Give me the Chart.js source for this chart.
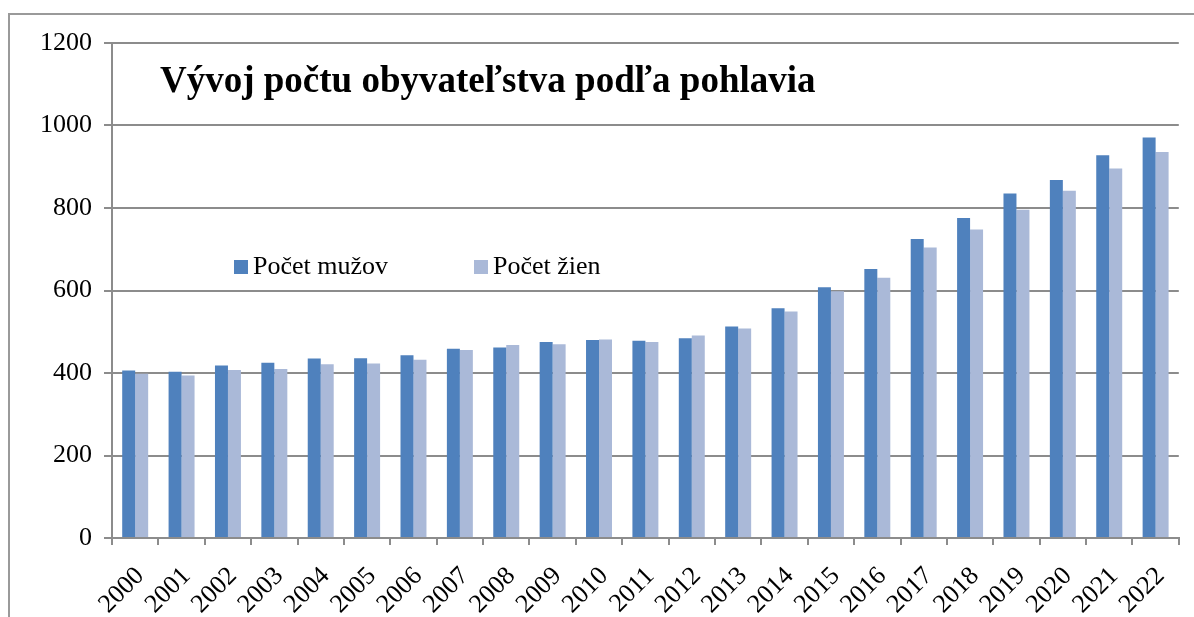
<!DOCTYPE html>
<html>
<head>
<meta charset="utf-8">
<script src="https://cdn.jsdelivr.net/npm/chart.js@4.4.1/dist/chart.umd.min.js"></script>
<style>
    html, body { margin: 0; padding: 0; background: #fff; overflow: hidden; }
    #frame {
        position: absolute; left: 8px; top: 13px;
        width: 1300px; height: 700px;
        border: 2px solid #9a9a9a;
    }
    #wrap { position: absolute; left: 0; top: 0; width: 1194px; height: 617px; }
</style>
</head>
<body>
<div id="frame"></div>
<div id="wrap"><canvas id="chart"></canvas></div>
<script>
// Chart data
const years = ['2000', '2001', '2002', '2003', '2004', '2005', '2006', '2007', '2008', '2009', '2010', '2011',
    '2012', '2013', '2014', '2015', '2016', '2017', '2018', '2019', '2020', '2021', '2022'];
const men = [406, 403, 418, 425, 435, 436, 443, 459, 462, 475, 480, 478, 484, 513, 557, 608, 652, 725, 776, 835, 868, 928, 971];
const women = [398, 394, 407, 410, 421, 423, 432, 456, 468, 470, 481, 475, 491, 508, 549, 598, 631, 704, 748, 796, 842, 896, 936];
const seriesNames = ['Počet mužov', 'Počet žien'];
const titleText = 'Vývoj počtu obyvateľstva podľa pohlavia';
const yMax = 1200;
const yStep = 200;

const serif = "'Liberation Serif', 'Times New Roman', serif";
const gridGray = '#8c8c8c';

// Title and legend sit inside the plot area
const overlayPlugin = {
    id: 'overlay',
    afterDraw(chart) {
        const ctx = chart.ctx;
        ctx.save();
        ctx.fillStyle = '#000';
        ctx.textBaseline = 'alphabetic';
        ctx.textAlign = 'left';
        ctx.font = 'bold 37px ' + serif;
        ctx.fillText(titleText, 160, 92);

        const legendX = [234, 474];
        ctx.font = '26px ' + serif;
        chart.data.datasets.forEach((ds, i) => {
            ctx.fillStyle = ds.backgroundColor;
            ctx.fillRect(legendX[i], 260, 14, 14);
            ctx.fillStyle = '#000';
            ctx.fillText(ds.label, legendX[i] + 19, 274);
        });
        ctx.restore();
    }
};

new Chart(document.getElementById('chart'), {
    type: 'bar',
    data: {
        labels: years,
        datasets: [
            { label: seriesNames[0], data: men, backgroundColor: '#4F81BD' },
            { label: seriesNames[1], data: women, backgroundColor: '#AAB9D8' }
        ]
    },
    options: {
        responsive: true,
        maintainAspectRatio: false,
        animation: false,
        categoryPercentage: 0.56,
        barPercentage: 1,
        layout: { padding: { left: 0, top: 43, right: 15, bottom: 0 } },
        plugins: {
            legend: { display: false },
            title: { display: false },
            tooltip: { enabled: false }
        },
        scales: {
            x: {
                afterFit: (scale) => { scale.height = 79; },
                grid: {
                    offset: true,
                    drawOnChartArea: false,
                    drawTicks: true,
                    tickLength: 7,
                    color: gridGray,
                    lineWidth: 2
                },
                border: { color: gridGray, width: 2 },
                ticks: {
                    autoSkip: false,
                    maxRotation: 45,
                    minRotation: 45,
                    padding: 16,
                    labelOffset: 5,
                    color: '#000',
                    font: { family: serif, size: 26 }
                }
            },
            y: {
                min: 0,
                max: yMax,
                afterFit: (scale) => { scale.width = 112; },
                grid: {
                    color: gridGray,
                    lineWidth: 2,
                    tickLength: 8
                },
                border: { color: gridGray, width: 2 },
                ticks: {
                    stepSize: yStep,
                    padding: 12,
                    color: '#000',
                    font: { family: serif, size: 26 },
                    callback: (v) => String(v)
                }
            }
        }
    },
    plugins: [overlayPlugin]
});
</script>
</body>
</html>
